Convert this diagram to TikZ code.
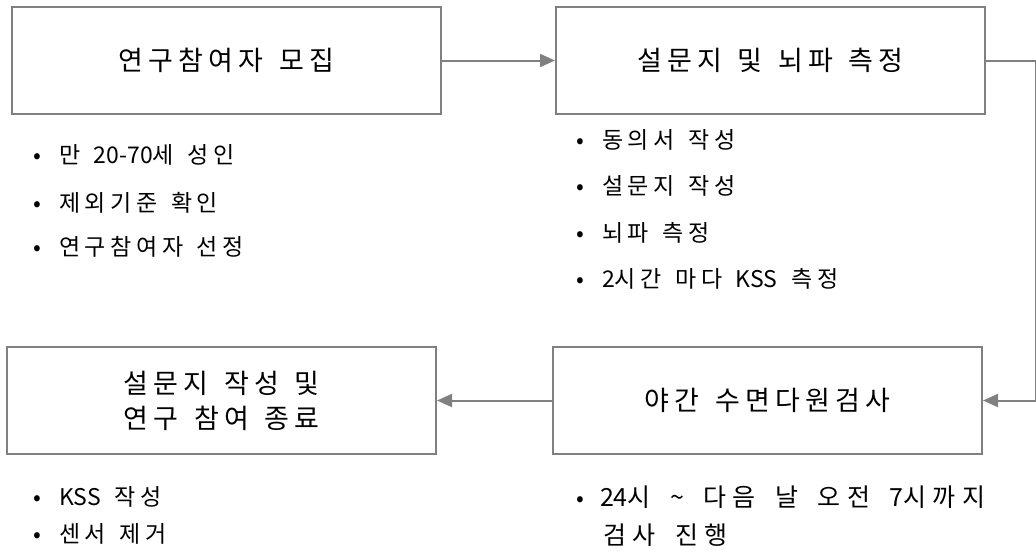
\documentclass[tikz,border=0pt]{standalone}
\usepackage{fontspec}
\setmainfont{Noto Sans CJK KR}
\newfontfamily\titlefont{Noto Sans CJK KR}[LetterSpace=19,WordSpace=1.4]
\newfontfamily\itemfont{Noto Sans CJK KR}[LetterSpace=20,WordSpace=1.4]
\newfontfamily\bigitemfont{Noto Sans CJK KR}[LetterSpace=26,WordSpace=1.6]
\newfontfamily\plainfont{Noto Sans CJK KR}
\newcommand{\nls}[1]{{\plainfont #1}}
\usetikzlibrary{arrows.meta,positioning}
\definecolor{linegray}{RGB}{128,128,128}
\begin{document}
\begin{tikzpicture}[x=1pt,y=-1pt,
  box/.style={draw=linegray,line width=2pt,minimum width=429pt,minimum height=107pt,inner sep=0pt,font=\titlefont\fontsize{27}{35}\selectfont,align=center},
  item/.style={anchor=west,inner sep=0pt,font=\itemfont\fontsize{23}{28}\selectfont},
  bigitem/.style={anchor=west,inner sep=0pt,font=\bigitemfont\fontsize{25}{30}\selectfont},
  conn/.style={draw=linegray,line width=2pt,-{Triangle[length=15pt,width=13pt]}}]
\useasboundingbox (0,0) rectangle (1036,558);
\node[box] (b1) at (226.5,60.5) {연구참여자 모집};
\node[box] (b2) at (770.5,60.5) {설문지 및 뇌파 측정};
\node[box] (b4) at (767.5,400.5) {야간 수면다원검사};
\node[box] (b3) at (221.5,400.5) {설문지 작성 및\\연구 참여 종료};
\coordinate (c1) at (1036,60.5);
\coordinate (c2) at (1036,400.5);
\draw[conn] (b1.east) -- (b2.west);
\draw[conn] (b2.east) -- (c1) -- (c2) -- (b4.east);
\draw[conn] (b4.west) -- (b3.east);
\node[item] (l1) at (33,155) {•\hspace{18pt}만 \nls{20-70}세 성인};
\node[item] (l2) at (33,203) {•\hspace{18pt}제외기준 확인};
\node[item] (l3) at (33,247) {•\hspace{18pt}연구참여자 선정};
\node[item] (r1) at (576,140) {•\hspace{18pt}동의서 작성};
\node[item] (r2) at (576,186) {•\hspace{18pt}설문지 작성};
\node[item] (r3) at (576,233) {•\hspace{18pt}뇌파 측정};
\node[item] (r4) at (576,279) {•\hspace{18pt}\nls{2}시간 마다 \nls{KSS} 측정};
\node[item] (bl1) at (33,497) {•\hspace{18pt}\nls{KSS} 작성};
\node[item] (bl2) at (33,534) {•\hspace{18pt}센서 제거};
\node[bigitem] (br1) at (576,497) {\fontsize{23}{28}\selectfont•\hspace{16pt}\fontsize{25}{30}\selectfont\nls{24}시 \nls{\textasciitilde} 다음 날 오전 \nls{7}시까지};
\node[bigitem] (br2) at (603,535) {검사 진행};
\end{tikzpicture}
\end{document}
